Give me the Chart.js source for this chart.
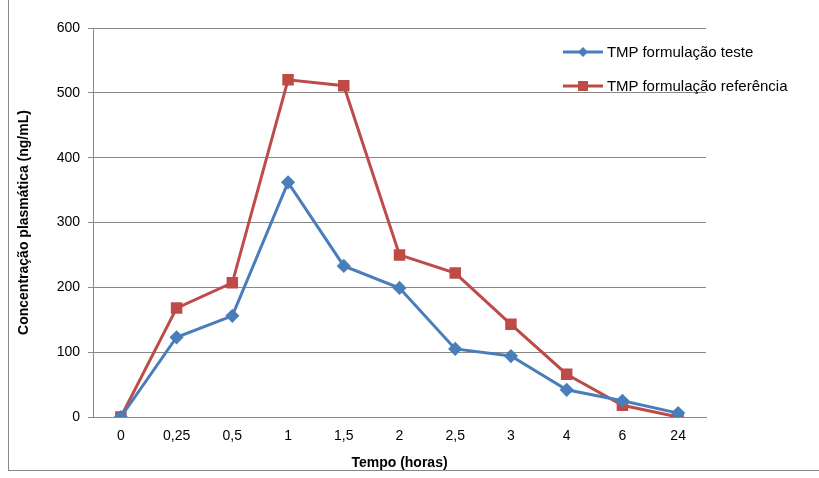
<!DOCTYPE html>
<html><head><meta charset="utf-8">
<script src="https://cdn.jsdelivr.net/npm/chart.js@4/dist/chart.umd.min.js"></script>
<style>
body{margin:0;background:#fff;font-family:"Liberation Sans",Arial,sans-serif}
#wrap{position:relative;width:819px;height:478px;overflow:hidden}
#frame{position:absolute;left:8px;top:0;width:830px;height:470px;border-left:1px solid #888;border-bottom:1px solid #888}
.leg{position:absolute;font-size:15px;color:#000;white-space:nowrap}
.leg span{display:inline-block;vertical-align:middle}
</style></head><body>
<div id="wrap">
<div id="frame"></div>
<canvas id="c" width="819" height="478"></canvas>
<div class="leg" style="left:563px;top:43px"><span id="m1"></span> TMP formulação teste</div>
<div class="leg" style="left:563px;top:77px"><span id="m2"></span> TMP formulação referência</div>
</div>
<script>
const tempos = ['0','0,25','0,5','1','1,5','2','2,5','3','4','6','24'];
const teste = [0,123,156,362,233,199,105,94,42,25,6];
const referencia = [0,168,207,520,511,250,222,143,66,18,0];
const blue = '#4a7ebb', red = '#be4b48';

function legMark(id, color, shape){
  const c = document.createElement('canvas'); c.width = 40; c.height = 14;
  const g = c.getContext('2d');
  g.strokeStyle = color; g.lineWidth = 3; g.beginPath(); g.moveTo(0,7); g.lineTo(40,7); g.stroke();
  g.fillStyle = color;
  if(shape === 'd'){ g.beginPath(); g.moveTo(20,2); g.lineTo(25,7); g.lineTo(20,12); g.lineTo(15,7); g.fill(); }
  else g.fillRect(15,2,10,10);
  document.getElementById(id).appendChild(c);
}
legMark('m1', blue, 'd'); legMark('m2', red, 's');

new Chart(document.getElementById('c'), {
  type: 'line',
  data: {
    labels: tempos,
    datasets: [
      {label:'TMP formulação teste', data: teste, borderColor: blue, backgroundColor: blue, borderWidth: 3,
       pointStyle: 'rectRot', pointRadius: 5, tension: 0},
      {label:'TMP formulação referência', data: referencia, borderColor: red, backgroundColor: red, borderWidth: 3,
       pointStyle: 'rect', pointRadius: 6, tension: 0}
    ]
  },
  options: {
    responsive: false, animation: false,
    layout: {padding: {left: 12, right: 113, top: 28, bottom: 6}},
    plugins: {legend: {display: false}, tooltip: {enabled: false}},
    scales: {
      x: {
        offset: true,
        grid: {display: false, drawTicks: true},
        border: {color: '#888'},
        ticks: {color: '#000', font: {size: 14, family: 'Liberation Sans'}},
        title: {display: true, text: 'Tempo (horas)', color: '#000', padding: 0, font: {size: 14, weight: 'bold', family: 'Liberation Sans'}},
        afterFit: s => { s.height = 55; }
      },
      y: {
        min: 0, max: 600,
        ticks: {stepSize: 100, color: '#000', font: {size: 14, family: 'Liberation Sans'}, padding: 8},
        grid: {color: '#888', drawTicks: true, tickLength: 5},
        border: {color: '#888'},
        title: {display: true, text: 'Concentração plasmática (ng/mL)', color: '#000', font: {size: 14, weight: 'bold', family: 'Liberation Sans'}},
        afterFit: s => { s.width = 81; }
      }
    }
  }
});
</script>
</body></html>
